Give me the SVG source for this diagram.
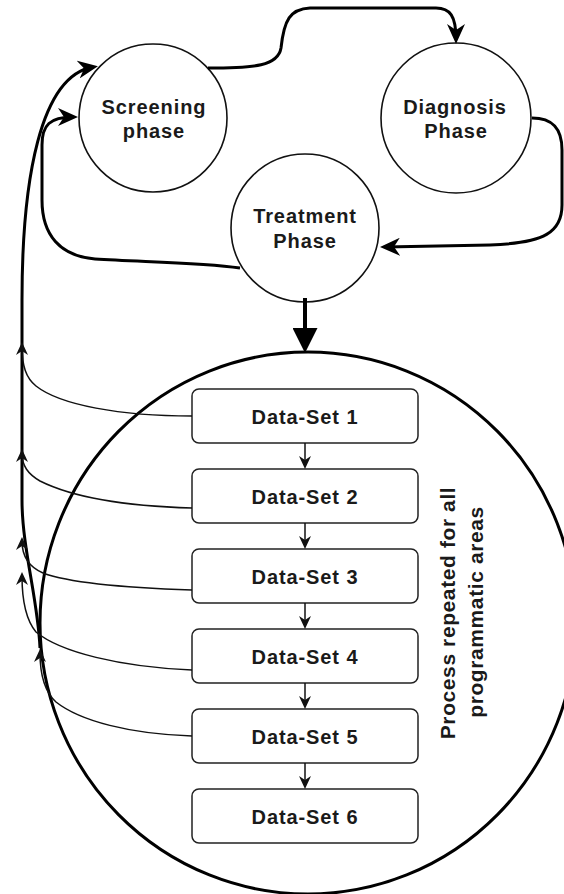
<svg xmlns="http://www.w3.org/2000/svg" width="564" height="894" viewBox="0 0 564 894">
  <style>
    .bg { fill: #ffffff; }
    .phase { fill: #ffffff; stroke: #111111; stroke-width: 1.6; }
    .area { fill: #ffffff; stroke: #000000; stroke-width: 3; }
    .ds { fill: #ffffff; stroke: #222222; stroke-width: 1.5; }
    .lbl { font-family: "Liberation Sans", Arial, sans-serif; font-weight: bold; font-size: 20px; letter-spacing: 0.9px; fill: #1a1a1a; text-anchor: middle; }
    .note { font-family: "Liberation Sans", Arial, sans-serif; font-weight: bold; font-size: 21px; letter-spacing: 0.6px; fill: #1a1a1a; text-anchor: middle; }
    .thick { fill: none; stroke: #000000; stroke-width: 3; }
    .thin { fill: none; stroke: #111111; stroke-width: 1.5; }
    .flow { fill: none; stroke: #000000; stroke-width: 4; }
  </style>
  <defs>
    <marker id="ah-lg" markerUnits="userSpaceOnUse" viewBox="0 0 20 18" refX="15" refY="9" markerWidth="20" markerHeight="18" orient="auto">
      <path d="M0,0 L20,9 L0,18 L6,9 Z" fill="#000000"/>
    </marker>
    <marker id="ah-sm" markerUnits="userSpaceOnUse" viewBox="0 0 13 12" refX="9" refY="6" markerWidth="13" markerHeight="12" orient="auto">
      <path d="M0,0 L13,6 L0,12 L4,6 Z" fill="#111111"/>
    </marker>
    <marker id="ah-block" markerUnits="userSpaceOnUse" viewBox="0 0 25 25" refX="18" refY="12.5" markerWidth="25" markerHeight="25" orient="auto">
      <path d="M0,0 L25,12.5 L0,25 Z" fill="#000000"/>
    </marker>
  </defs>

  <rect class="bg" x="0" y="0" width="564" height="894"/>

  <!-- programmatic area container -->
  <g id="programmatic-area">
    <ellipse class="area" cx="308" cy="623" rx="268" ry="271"/>
    <text class="note" transform="rotate(-90)" x="-613" y="455">Process repeated for all</text>
    <text class="note" transform="rotate(-90)" x="-612" y="483">programmatic areas</text>
  </g>

  <!-- phases -->
  <g id="screening">
    <circle class="phase" cx="153" cy="118" r="74"/>
    <text class="lbl" x="154" y="114">Screening</text>
    <text class="lbl" x="154" y="138">phase</text>
  </g>
  <g id="diagnosis">
    <circle class="phase" cx="456" cy="118" r="75"/>
    <text class="lbl" x="455" y="114">Diagnosis</text>
    <text class="lbl" x="456" y="138">Phase</text>
  </g>
  <g id="treatment">
    <circle class="phase" cx="305" cy="228" r="74"/>
    <text class="lbl" x="305" y="223">Treatment</text>
    <text class="lbl" x="305" y="248">Phase</text>
  </g>

  <!-- data sets -->
  <g id="ds1"><rect class="ds" x="192" y="389" width="226" height="54" rx="7"/><text class="lbl" x="305" y="424">Data-Set 1</text></g>
  <g id="ds2"><rect class="ds" x="192" y="469" width="226" height="54" rx="7"/><text class="lbl" x="305" y="504">Data-Set 2</text></g>
  <g id="ds3"><rect class="ds" x="192" y="549" width="226" height="54" rx="7"/><text class="lbl" x="305" y="584">Data-Set 3</text></g>
  <g id="ds4"><rect class="ds" x="192" y="629" width="226" height="54" rx="7"/><text class="lbl" x="305" y="664">Data-Set 4</text></g>
  <g id="ds5"><rect class="ds" x="192" y="709" width="226" height="54" rx="7"/><text class="lbl" x="305" y="744">Data-Set 5</text></g>
  <g id="ds6"><rect class="ds" x="192" y="789" width="226" height="54" rx="7"/><text class="lbl" x="305" y="824">Data-Set 6</text></g>

  <!-- connectors -->
  <g id="connectors">
    <!-- phase cycle -->
    <path class="thick" marker-end="url(#ah-lg)" d="M208,68 C255,68 278,66 281,48 C284,20 290,9 310,8 L436,8 C450,8 456,16 456,39"/>
    <path class="thick" marker-end="url(#ah-lg)" d="M532,118 C552,118 562,128 562,150 L562,205 C562,232 545,243 490,245 L385,247"/>
    <path class="thick" marker-end="url(#ah-lg)" d="M240,268 C200,262 140,262 95,259 C60,256 42,235 42,200 L42,145 C42,125 50,117 73,117"/>
    <path class="flow" marker-end="url(#ah-block)" d="M305,298 L305,346"/>

    <!-- feedback to screening -->
    <path class="thick" marker-end="url(#ah-lg)" d="M40,648 C38,600 22,548 22,500 L22,300 C22,180 40,76 93,67"/>

    <!-- data sets into feedback line -->
    <path class="thin" marker-end="url(#ah-sm)" d="M192,416 C120,416 60,405 36,386 C26,378 22,366 22,346"/>
    <path class="thin" marker-end="url(#ah-sm)" d="M192,508 C120,506 70,496 40,481 C28,474 22,466 22,453"/>
    <path class="thin" marker-end="url(#ah-sm)" d="M192,590 C130,588 70,583 43,573 C29,567 22,556 22,541"/>
    <path class="thin" marker-end="url(#ah-sm)" d="M192,670 C120,667 60,652 36,632 C26,620 22,600 22,576"/>
    <path class="thin" marker-end="url(#ah-sm)" d="M192,736 C130,734 80,721 56,702 C45,692 40,675 40,653"/>

    <!-- data set sequence -->
    <path class="thin" marker-end="url(#ah-sm)" d="M305,443 L305,465"/>
    <path class="thin" marker-end="url(#ah-sm)" d="M305,523 L305,545"/>
    <path class="thin" marker-end="url(#ah-sm)" d="M305,603 L305,625"/>
    <path class="thin" marker-end="url(#ah-sm)" d="M305,683 L305,705"/>
    <path class="thin" marker-end="url(#ah-sm)" d="M305,763 L305,785"/>
  </g>
</svg>
